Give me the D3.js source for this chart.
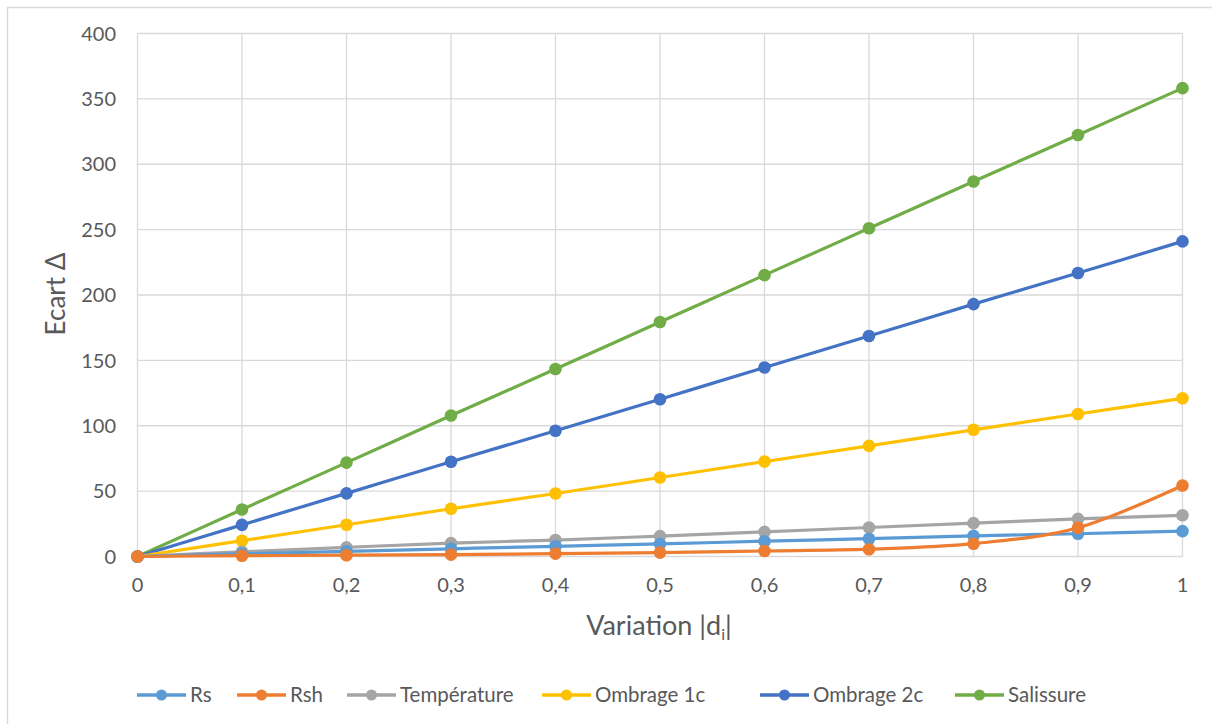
<!DOCTYPE html>
<html>
<head>
<meta charset="utf-8">
<script src="https://cdn.jsdelivr.net/npm/d3@7"></script>
<style>
  html, body { margin: 0; padding: 0; background: #fff; }
  svg { display: block; font-family: Lato, "Noto Sans", sans-serif; }
</style>
</head>
<body>
<svg id="chart" width="1212" height="724"></svg>
<script>
// ---- data ----
const xValues = [0, 0.1, 0.2, 0.3, 0.4, 0.5, 0.6, 0.7, 0.8, 0.9, 1];
const xTickLabels = ["0", "0,1", "0,2", "0,3", "0,4", "0,5", "0,6", "0,7", "0,8", "0,9", "1"];
const yTicks = [0, 50, 100, 150, 200, 250, 300, 350, 400];
const seriesNames = ["Rs", "Rsh", "Température", "Ombrage 1c", "Ombrage 2c", "Salissure"];
const seriesColors = ["#5B9BD5", "#ED7D31", "#A5A5A5", "#FFC000", "#4472C4", "#70AD47"];
const rsValues = [0, 2.0, 3.9, 5.9, 7.8, 9.6, 11.7, 13.6, 15.8, 17.4, 19.4];
const rshValues = [0, 0.6, 1.0, 1.4, 2.2, 3.0, 4.2, 5.6, 9.8, 22, 54.3];
const temperatureValues = [0, 3.6, 7.0, 10.2, 12.6, 15.6, 18.8, 22.2, 25.5, 28.8, 31.5];
const ombrage1cValues = [0, 12.1, 24.3, 36.5, 48.2, 60.4, 72.6, 84.6, 96.9, 109, 121];
const ombrage2cValues = [0, 24.2, 48.3, 72.5, 96.2, 120.3, 144.6, 168.6, 193, 216.8, 241];
const salissureValues = [0, 36, 71.8, 107.8, 143.4, 179.3, 215.2, 251, 286.8, 322.4, 358.2];
const allValues = [rsValues, rshValues, temperatureValues, ombrage1cValues, ombrage2cValues, salissureValues];

// ---- layout ----
const svg = d3.select("#chart");
const plot = { left: 137.5, right: 1182.5, top: 33.5, bottom: 556.5 };
const x = d3.scaleLinear().domain([0, 1]).range([plot.left, plot.right]);
const y = d3.scaleLinear().domain([0, 400]).range([plot.bottom, plot.top]);
const textColor = "#595959";
const gridColor = "#D9D9D9";

// chart border
svg.append("rect").attr("x", 7.5).attr("y", 7.5).attr("width", 1220).attr("height", 730)
  .attr("fill", "none").attr("stroke", gridColor).attr("stroke-width", 1.5);

// gridlines
svg.append("g").selectAll("line.h").data(yTicks).join("line")
  .attr("x1", plot.left).attr("x2", plot.right)
  .attr("y1", d => y(d)).attr("y2", d => y(d))
  .attr("stroke", gridColor).attr("stroke-width", 1.3);
svg.append("g").selectAll("line.v").data(xValues).join("line")
  .attr("y1", plot.top).attr("y2", plot.bottom)
  .attr("x1", d => x(d)).attr("x2", d => x(d))
  .attr("stroke", gridColor).attr("stroke-width", 1.3);

// y axis labels
svg.append("g").selectAll("text").data(yTicks).join("text")
  .attr("x", 116).attr("y", d => y(d)).attr("dy", "0.36em")
  .attr("text-anchor", "end").attr("fill", textColor).attr("font-size", 20)
  .text(d => d);

// x axis labels
svg.append("g").selectAll("text").data(xValues).join("text")
  .attr("x", d => x(d)).attr("y", 592)
  .attr("text-anchor", "middle").attr("fill", textColor).attr("font-size", 20)
  .text((d, i) => xTickLabels[i]);

// axis titles
const xt = svg.append("text").attr("x", 659).attr("y", 635).attr("text-anchor", "middle")
  .attr("fill", textColor).attr("font-size", 27);
xt.append("tspan").text("Variation |d");
xt.append("tspan").attr("font-size", 16).attr("dy", 5).text("i");
xt.append("tspan").attr("dy", -5).text("|");

svg.append("text").attr("transform", "translate(65,294) rotate(-90)")
  .attr("text-anchor", "middle").attr("fill", textColor).attr("font-size", 26)
  .text("Ecart Δ");

// series
const line = d3.line().x((d, i) => x(xValues[i])).y(d => y(d)).curve(d3.curveCatmullRom.alpha(0));
const drawOrder = [5, 4, 3, 2, 0, 1];
drawOrder.forEach(si => {
  const g = svg.append("g");
  g.append("path").datum(allValues[si]).attr("d", line)
    .attr("fill", "none").attr("stroke", seriesColors[si]).attr("stroke-width", 3.2)
    .attr("stroke-linejoin", "round").attr("stroke-linecap", "round");
  g.selectAll("circle").data(allValues[si]).join("circle")
    .attr("cx", (d, i) => x(xValues[i])).attr("cy", d => y(d)).attr("r", 6.3)
    .attr("fill", seriesColors[si]);
});

// legend
const legendX = [137, 237, 347, 542, 760, 955];
const legendY = 695;
const lg = svg.append("g");
seriesNames.forEach((name, i) => {
  const lx = legendX[i];
  lg.append("line").attr("x1", lx).attr("x2", lx + 49).attr("y1", legendY).attr("y2", legendY)
    .attr("stroke", seriesColors[i]).attr("stroke-width", 3.3);
  lg.append("circle").attr("cx", lx + 24.5).attr("cy", legendY).attr("r", 5.5).attr("fill", seriesColors[i]);
  lg.append("text").attr("x", lx + 53).attr("y", legendY).attr("dy", "0.36em")
    .attr("fill", textColor).attr("font-size", 20.5).text(name);
});
</script>
</body>
</html>
